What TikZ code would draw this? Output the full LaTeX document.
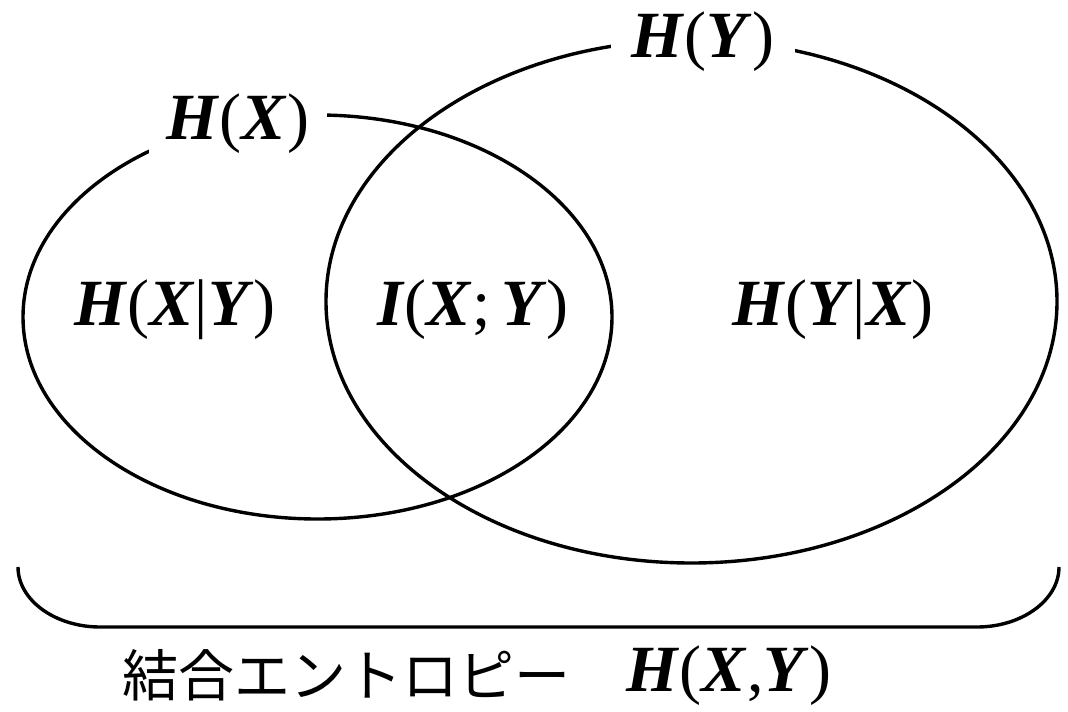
\documentclass[tikz,border=0pt]{standalone}
\usepackage{fontspec}
\setmainfont{Liberation Serif}
\newfontfamily\jpfont{Noto Sans CJK JP}
\newcommand{\bivar}[1]{{\bfseries\itshape #1\/}}
\begin{document}
\begin{tikzpicture}[x=1pt,y=-1pt,
  outline/.style={line width=3.4pt,black},
  mathlbl/.style={font=\fontsize{66}{70}\selectfont,inner sep=0pt},
  gaplbl/.style={mathlbl,fill=white,inner xsep=18pt,inner ysep=4pt},
  jplbl/.style={font=\jpfont\fontsize{56}{60}\selectfont,inner sep=0pt}]
\useasboundingbox (0,0) rectangle (1068,712);
\coordinate (cx) at (317.5,317);
\coordinate (cy) at (691.5,301.5);
\draw[outline] (cx) ellipse [x radius=294.5pt, y radius=202pt];
\draw[outline] (cy) ellipse [x radius=365.5pt, y radius=261.5pt];
\node[gaplbl] (hx) at (238,124) {\bivar{H}(\bivar{X})};
\node[gaplbl,inner xsep=21pt] (hy) at (703,42) {\bivar{H}(\bivar{Y})};
\node[mathlbl] (hxy) at (175,310) {\bivar{H}(\bivar{X}|\bivar{Y})};
\node[mathlbl] (ixy) at (473,310) {\bivar{I}(\bivar{X};\,\bivar{Y})};
\node[mathlbl] (hyx) at (833,310) {\bivar{H}(\bivar{Y}|\bivar{X})};
\coordinate (bl) at (18,567);
\coordinate (bl2) at (100,627);
\coordinate (br2) at (977,627);
\coordinate (br) at (1059,567);
\draw[outline] (bl) .. controls (18,600) and (55,627) .. (bl2) -- (br2) .. controls (1022,627) and (1059,600) .. (br);
\node[jplbl] (joint) at (346,675) {結合エントロピー};
\node[mathlbl] (hxyj) at (729,676) {\bivar{H}(\bivar{X},\bivar{Y})};
\end{tikzpicture}
\end{document}
